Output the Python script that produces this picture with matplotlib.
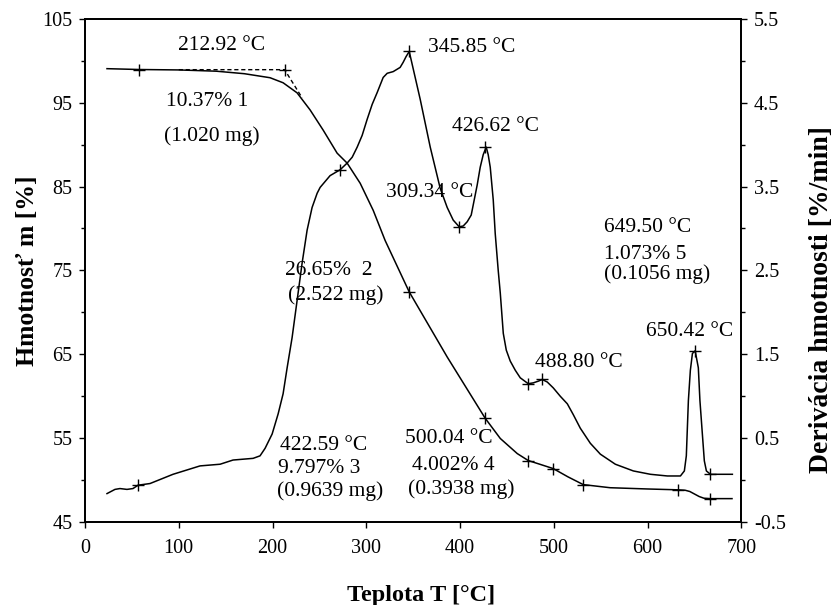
import matplotlib
matplotlib.use("Agg")
import matplotlib.pyplot as plt
from matplotlib.ticker import MultipleLocator

plt.rcParams['font.family'] = ['Liberation Serif', 'DejaVu Serif']

# TG krivka - hmotnost [%]
tg_t = [23.5, 57.6, 100.0, 140.0, 170.0, 197.4, 211.3, 226.2, 240.1, 254.0, 268.9,
        279.6, 293.5, 307.4, 320.1, 345.7, 386.3, 426.8, 442.9, 461.0, 472.7, 485.0,
        499.4, 515.0, 531.4, 560.0, 600.0, 632.0, 640.0, 645.0, 650.0, 655.0, 660.0,
        667.0, 690.0]
tg_m = [99.05, 98.95, 98.9, 98.75, 98.45, 97.97, 97.37, 96.17, 94.13, 91.73, 88.98,
        87.79, 85.39, 82.16, 78.57, 72.46, 64.68, 57.38, 54.97, 53.17, 52.34, 51.9,
        51.38, 50.4, 49.47, 49.1, 48.95, 48.85, 48.8, 48.65, 48.35, 48.05, 47.85,
        47.8, 47.8]

# DTG krivka - derivacia hmotnosti [%/min]
dtg_t = [23.5, 32.0, 37.3, 44.8, 51.2, 56.6, 69.4, 93.9, 122.7, 144.1, 157.9, 179.3,
         186.7, 192.1, 199.6, 206.0, 211.3, 215.6, 220.9, 226.2, 231.6, 236.9, 242.2,
         247.6, 250.8, 261.4, 272.1, 279.6, 285.0, 290.3, 295.6, 300.9, 306.3, 311.6,
         314.8, 318.0, 322.3, 328.7, 336.1, 339.3, 342.5, 345.8, 357.5, 368.2, 378.8,
         386.3, 392.7, 399.1, 403.4, 407.6, 411.9, 415.1, 418.3, 421.5, 424.7, 427.9,
         430.0, 432.2, 435.4, 437.5, 440.7, 442.9, 446.1, 449.3, 453.5, 458.9, 464.2,
         472.7, 478.1, 483.4, 487.7, 493.0, 499.4, 506.9, 514.4, 520.8, 528.2, 538.9,
         549.6, 565.6, 584.8, 603.0, 621.1, 635.0, 639.2, 641.3, 643.5, 645.6, 647.8,
         650.4, 651.1, 654.1, 655.8, 658.4, 660.5, 662.7, 667.0, 690.4]
dtg_d = [-0.16, -0.11, -0.10, -0.11, -0.10, -0.06, -0.04, 0.07, 0.17, 0.19, 0.24, 0.26,
         0.29, 0.38, 0.55, 0.79, 1.03, 1.34, 1.70, 2.14, 2.59, 2.98, 3.25,
         3.42, 3.49, 3.63, 3.70, 3.78, 3.85, 3.97, 4.11, 4.30, 4.48, 4.62,
         4.71, 4.80, 4.85, 4.87, 4.92, 4.98, 5.05, 5.11, 4.54, 3.97, 3.48,
         3.25, 3.10, 3.02, 3.03, 3.08, 3.16, 3.34, 3.52, 3.73, 3.88, 3.97,
         3.88, 3.73, 3.34, 2.94, 2.50, 2.23, 1.75, 1.55, 1.42, 1.31, 1.22,
         1.15, 1.16, 1.18, 1.20, 1.17, 1.10, 1.00, 0.91, 0.78, 0.62, 0.44,
         0.31, 0.19, 0.11, 0.07, 0.05, 0.05, 0.11, 0.29, 0.95, 1.31, 1.51,
         1.54, 1.52, 1.34, 0.95, 0.55, 0.23, 0.11, 0.07, 0.07]

# znacky "+"
tg_mark_t = [57.6, 212.92, 345.7, 426.8, 472.7, 499.4, 531.4, 632.0, 667.0]
tg_mark_m = [98.95, 98.93, 72.46, 57.38, 52.34, 51.38, 49.47, 48.85, 47.8]
dtg_mark_t = [56.6, 272.1, 345.85, 399.1, 426.62, 472.7, 487.7, 650.42, 667.0]
dtg_mark_d = [-0.06, 3.70, 5.11, 3.02, 3.97, 1.15, 1.20, 1.54, 0.07]

# dotycnice (onset)
tan_t = [100, 212.92, 231.6]
tan_m = [98.93, 98.93, 95.57]

# popisy
labels = ["212.92 °C", "10.37% 1", "(1.020 mg)", "345.85 °C", "426.62 °C", "309.34 °C",
          "649.50 °C", "1.073% 5", "(0.1056 mg)", "26.65%  2", "(2.522 mg)",
          "422.59 °C", "9.797% 3", "(0.9639 mg)", "500.04 °C", "4.002% 4",
          "(0.3938 mg)", "488.80 °C", "650.42 °C"]
lab_t = [146, 130, 135.5, 366, 437.5, 368, 553, 553, 553, 213.4, 216.6,
         208, 206, 205, 341.5, 349, 344.7, 480, 644.5]
lab_m = [101.8, 95.1, 91.0, 101.6, 92.2, 84.3, 80.1, 76.9, 74.5, 75.0, 72.1,
         54.1, 51.4, 48.7, 55.0, 51.8, 48.9, 64.0, 67.7]
lab_ha = ['center', 'center', 'center', 'left', 'center', 'center', 'left', 'left', 'left',
          'left', 'left', 'left', 'left', 'left', 'left', 'left', 'left', 'left', 'center']

fig = plt.figure(figsize=(8.33, 6.05), dpi=100)
ax = fig.add_axes([0.102, 0.137, 0.788, 0.832])
ax2 = ax.twinx()

ax.plot(tg_t, tg_m, color='black', lw=1.1)
ax.plot(tan_t, tan_m, color='black', lw=1.0, ls=(0, (3, 2)))
ax.plot(tg_mark_t, tg_mark_m, ls='none', marker='+', ms=9, mew=1.0, color='black')
ax2.plot(dtg_t, dtg_d, color='black', lw=1.1)
ax2.plot(dtg_mark_t, dtg_mark_d, ls='none', marker='+', ms=9, mew=1.0, color='black')

for s, t, m, ha in zip(labels, lab_t, lab_m, lab_ha):
    ax.text(t, m, s, ha=ha, va='center', fontsize=15.5)

ax.set_xlim(0, 700)
ax.set_ylim(45, 105)
ax2.set_ylim(-0.5, 5.5)
ax.xaxis.set_major_locator(MultipleLocator(100))
ax.yaxis.set_minor_locator(MultipleLocator(5))
ax2.yaxis.set_minor_locator(MultipleLocator(0.5))
ax.set_yticks(range(45, 106, 10))
ax2.set_yticks([-0.5, 0.5, 1.5, 2.5, 3.5, 4.5, 5.5])
ax2.set_yticklabels(['-0.5', '0.5', '1.5', '2.5', '3.5', '4.5', '5.5'])

for a in (ax, ax2):
    a.tick_params(which='major', direction='out', length=4, width=1.0, labelsize=14.5, pad=5)
    a.tick_params(which='minor', direction='out', length=3, width=1.0)
    for sp in a.spines.values():
        sp.set_linewidth(1.3)
ax.tick_params(axis='x', pad=8)

fig.text(421 / 833, 1 - 595 / 605, 'Teplota T [°C]', ha='center', va='center',
         fontsize=17.5, fontweight='bold')
fig.text(28 / 833, 1 - 271 / 605, 'Hmotnosť m [%]', ha='center', va='center',
         rotation=90, fontsize=18.5, fontweight='bold')
fig.text(822 / 833, 1 - 300 / 605, 'Derivácia hmotnosti [%/min]', ha='center', va='center',
         rotation=90, fontsize=20, fontweight='bold')

fig.savefig('out.png', dpi=100)
